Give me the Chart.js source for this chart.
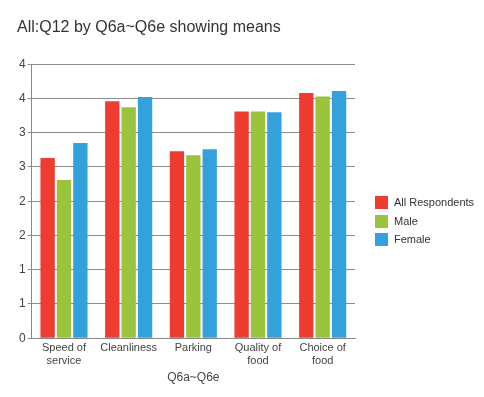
<!DOCTYPE html>
<html>
<head>
    <title>All:Q12 by Q6a~Q6e showing means</title>
    <script src="https://cdn.jsdelivr.net/npm/chart.js"></script>
    <style>
        body {
            margin: 0;
            padding: 0;
            background: #fff;
            font-family: Arial, "Liberation Sans", sans-serif;
        }
        #wrap {
            position: relative;
            width: 484px;
            height: 397px;
        }
        #legend {
            position: absolute;
            left: 375px;
            top: 196px;
            font-size: 11px;
            color: #333;
        }
        .item {
            height: 18.5px;
            line-height: 13px;
            white-space: nowrap;
        }
        .swatch {
            display: inline-block;
            width: 13px;
            height: 13px;
            vertical-align: top;
            margin-right: 6px;
        }
    </style>
</head>
<body>
    <div id="wrap">
        <canvas id="chart" width="484" height="397"></canvas>
        <div id="legend"></div>
    </div>

    <script>
        // Data
        const categories = [['Speed of', 'service'], 'Cleanliness', 'Parking', ['Quality of', 'food'], ['Choice of', 'food']];
        const seriesNames = ['All Respondents', 'Male', 'Female'];
        const allRespondents = [2.63, 3.46, 2.73, 3.31, 3.58];
        const male = [2.31, 3.37, 2.67, 3.31, 3.53];
        const female = [2.85, 3.52, 2.76, 3.30, 3.61];
        const yTickLabels = ['0', '1', '1', '2', '2', '3', '3', '4', '4'];
        const colors = ['#ef3c31', '#99c43c', '#33a2dc'];

        const series = [allRespondents, male, female];
        const datasets = series.map((values, i) => ({
            label: seriesNames[i],
            data: values,
            backgroundColor: colors[i],
            categoryPercentage: 0.76,
            barPercentage: 0.875
        }));

        const tickFont = { family: 'Arial, "Liberation Sans", sans-serif', size: 11 };

        new Chart(document.getElementById('chart'), {
            type: 'bar',
            data: { labels: categories, datasets: datasets },
            options: {
                responsive: false,
                animation: false,
                layout: { padding: { left: 17, right: 129, top: 0, bottom: 12 } },
                plugins: {
                    legend: { display: false },
                    tooltip: { enabled: false },
                    title: {
                        display: true,
                        text: 'All:Q12 by Q6a~Q6e showing means',
                        align: 'start',
                        color: '#333',
                        font: { family: 'Arial, "Liberation Sans", sans-serif', size: 16, weight: 'normal' },
                        padding: { top: 18, bottom: 27 }
                    }
                },
                scales: {
                    x: {
                        grid: { display: false, drawTicks: false },
                        border: { color: '#888', width: 1 },
                        ticks: { color: '#444', font: tickFont, padding: 3, maxRotation: 0 },
                        title: {
                            display: true,
                            text: 'Q6a~Q6e',
                            color: '#444',
                            font: { family: 'Arial, "Liberation Sans", sans-serif', size: 12 },
                            padding: { top: 0, bottom: 0 }
                        }
                    },
                    y: {
                        min: 0,
                        max: 4,
                        grid: { color: '#8c8c8c', tickLength: 4, lineWidth: 1 },
                        border: { color: '#888', width: 1 },
                        ticks: {
                            stepSize: 0.5,
                            color: '#444',
                            font: { family: 'Arial, "Liberation Sans", sans-serif', size: 12 },
                            padding: 2,
                            callback: (v, i) => yTickLabels[i]
                        }
                    }
                }
            }
        });

        // HTML legend
        const legend = document.getElementById('legend');
        seriesNames.forEach((name, i) => {
            const item = document.createElement('div');
            item.className = 'item';
            item.innerHTML = '<span class="swatch" style="background:' + colors[i] + '"></span>' + name;
            legend.appendChild(item);
        });
    </script>
</body>
</html>
